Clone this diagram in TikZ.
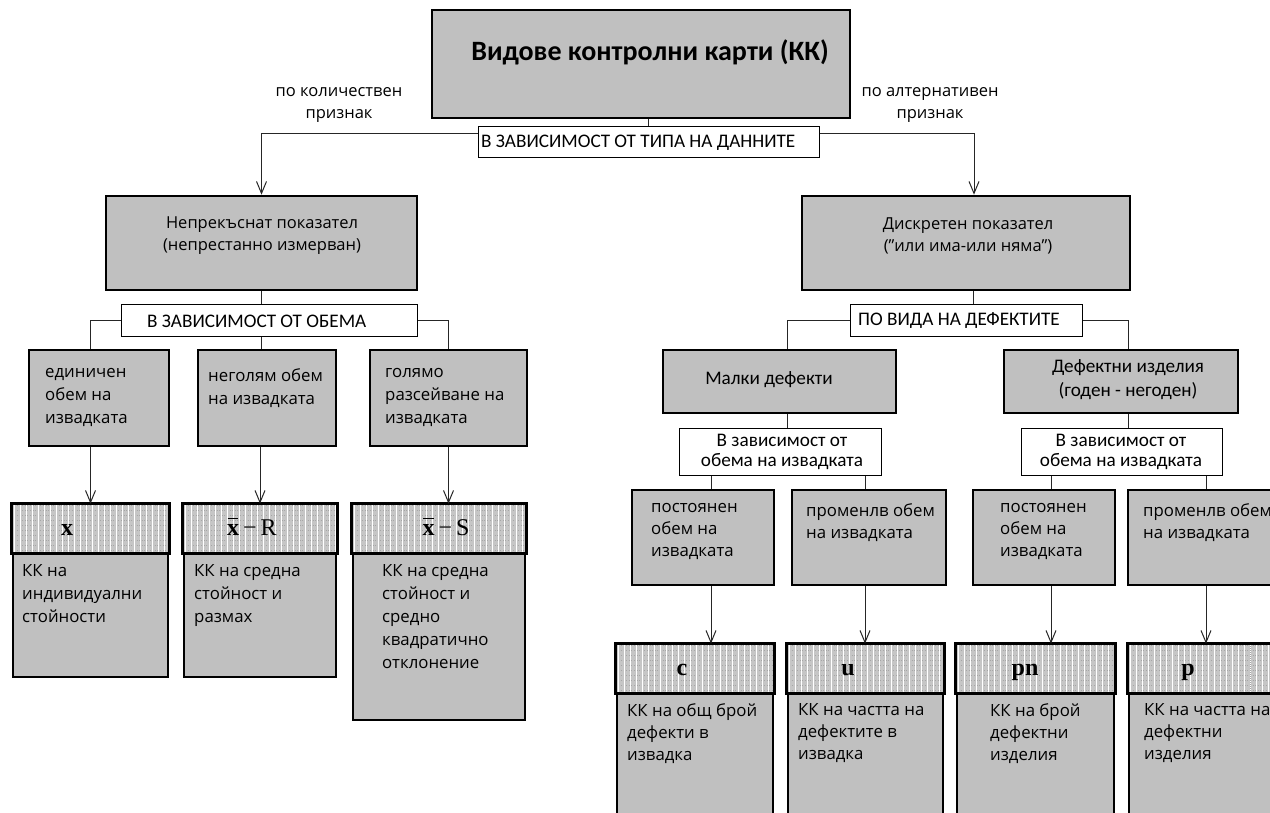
\documentclass[tikz,border=0pt]{standalone}
\usepackage{fontspec}
\setmainfont{Open Sans}
\newfontfamily\calib{Carlito}
\newfontfamily\serf{Liberation Serif}
\usetikzlibrary{arrows.meta,calc}
\definecolor{boxgray}{HTML}{C0C0C0}
\definecolor{hdrgray}{HTML}{C6C6C6}
\definecolor{hdrdot}{HTML}{A6A6A6}
\newcommand{\xbarsym}{{\rlap{\hspace{0.5pt}\rule[16pt]{10.5pt}{1.1pt}}\bfseries x}}
\newcommand{\hatchfill}[1]{%
  \begin{scope}
    \clip (#1.north west) rectangle (#1.south east);
    \fill[hdrgray] (#1.north west) rectangle (#1.south east);
    \foreach \k in {0,...,10}
      \draw[hdrdot, dotted, line width=0.6pt] ($(#1.north west)+(0,2+5*\k)$) -- ($(#1.north east)+(0,2+5*\k)$);
    \foreach \k in {0,...,30}
      \draw[white, line width=1.2pt] ($(#1.north west)+(3+6*\k,0)$) -- ($(#1.south west)+(3+6*\k,0)$);
  \end{scope}}
\begin{document}
\begin{tikzpicture}[x=1pt,y=-1pt,
  gbox/.style={draw=black, line width=2.6pt, fill=boxgray, inner sep=0pt},
  hbox/.style={draw=black, line width=2.6pt, inner sep=0pt},
  wbox/.style={draw=black, line width=1pt, fill=white, inner sep=0pt},
  conn/.style={draw=black!85, line width=1pt},
  arr/.style={conn, -{Straight Barb[length=12pt,width=10pt]}},
  body/.style={font=\fontsize{16.8}{23}\selectfont, align=left, inner sep=0pt, anchor=north west},
  rbody/.style={font=\fontsize{16.8}{22}\selectfont, align=left, inner sep=0pt, anchor=north west},
  cbody/.style={font=\fontsize{16.5}{22}\selectfont, align=center, inner sep=0pt},
  clab/.style={font=\calib\fontsize{19.2}{20}\selectfont, inner sep=0pt},
  htxt/.style={font=\serf\fontsize{24}{26}\selectfont, inner sep=0pt, anchor=base}
]
\useasboundingbox (0,0) rectangle (1270,813);
\clip (0,0) rectangle (1270,813);
\fill[white] (0,0) rectangle (1270,813);

% top
\node[gbox, minimum width=418, minimum height=108] (top) at (641,64) {};
\node[font=\calib\bfseries\fontsize{28}{30}\selectfont, inner sep=0pt] (title) at (650,52) {Видове контролни карти (КК)};
\node[cbody] (qlab) at (339,105) {по количествен\\признак};
\node[cbody] (alab) at (930,105) {по алтернативен\\признак};

\node[wbox, minimum width=341, minimum height=31] (lblT) at (648.5,142.5) {};
\node[clab, anchor=west] (lblTt) at (481,142.5) {В ЗАВИСИМОСТ ОТ ТИПА НА ДАННИТЕ};

\node[gbox, minimum width=311, minimum height=94] (nep) at (261.5,243) {};
\node[cbody] (nept) at (262,236) {Непрекъснат показател\\(непрестанно измерван)};
\node[gbox, minimum width=328, minimum height=94] (disc) at (966,243) {};
\node[cbody] (disct) at (968,236) {Дискретен показател\\({\char"22}или има-или няма{\char"22})};

\draw[conn] (lblT.north) -- (lblT.north |- top.south);
\draw[arr] ($(lblT.north west)+(0,7)$) -| (nep.north);
\coordinate (dtop) at ($(disc.north)+(8,0)$);
\draw[arr] ($(lblT.north east)+(0,7)$) -| (dtop);

% left branch
\node[wbox, minimum width=296, minimum height=31] (lblO) at (269,320.5) {};
\node[clab, anchor=west] (lblOt) at (147,321) {В ЗАВИСИМОСТ ОТ ОБЕМА};
\node[gbox, minimum width=140, minimum height=96] (b1) at (99,398) {};
\node[gbox, minimum width=138, minimum height=96] (b2) at (267,398) {};
\node[gbox, minimum width=157, minimum height=96] (b3) at (448.5,398) {};
\node[body] (b1t) at (45,368) {единичен\\обем на\\извадката};
\node[body] (b2t) at (208,368) {неголям обем\\на извадката};
\node[body] (b3t) at (385,368) {голямо\\разсейване на\\извадката};

\draw[conn] (nep.south) -- (nep.south |- lblO.north);
\coordinate (b1top) at ($(b1.north)+(-9,0)$);
\draw[conn] (lblO.west) -| (b1top);
\draw[conn] (lblO.east) -| (b3.north);
\draw[conn] (lblO.south -| nep.south) -- (b2.north -| nep.south);

% left leaves
\node[gbox, minimum width=155, minimum height=172] (L1) at (90.5,591) {};
\node[gbox, minimum width=152, minimum height=172] (L2) at (260,591) {};
\node[gbox, minimum width=172, minimum height=215] (L3) at (439,612.5) {};
\node[hbox, minimum width=155, minimum height=47] (H1) at (90.5,528.5) {};
\node[hbox, minimum width=152, minimum height=47] (H2) at (260,528.5) {};
\node[hbox, minimum width=172, minimum height=47] (H3) at (439,528.5) {};
\hatchfill{H1}\hatchfill{H2}\hatchfill{H3}
\draw[black, line width=2.6pt] (H1.north west) rectangle (H1.south east);
\draw[black, line width=2.6pt] (H2.north west) rectangle (H2.south east);
\draw[black, line width=2.6pt] (H3.north west) rectangle (H3.south east);
\node[htxt] (H1t) at (67,535) {\bfseries x};
\node[htxt] (H2t) at (252,535) {\xbarsym\,−\,R};
\node[htxt] (H3t) at (446,535) {\xbarsym\,−\,S};
\node[body] (L1t) at (22,564) {КК на\\индивидуални\\стойности};
\node[body] (L2t) at (194,564) {КК на средна\\стойност и\\размах};
\node[body] (L3t) at (382,564) {КК на средна\\стойност и\\средно\\квадратично\\отклонение};

\draw[arr] (b1.south -| H1.north) -- (H1.north);
\draw[arr] (b2.south -| H2.north) -- (H2.north);
\draw[arr] (b3.south) -- (b3.south |- H3.north);

% right branch
\node[wbox, minimum width=232, minimum height=31] (lblV) at (966,320.5) {};
\node[clab, anchor=west] (lblVt) at (858,321) {ПО ВИДА НА ДЕФЕКТИТЕ};
\coordinate (dv) at ($(disc.south)+(7,0)$);
\draw[conn] (dv) -- (dv |- lblV.north);

\node[gbox, minimum width=233, minimum height=63] (pbox) at (779.5,381.5) {};
\node[clab] (pboxt) at (769,380) {Малки дефекти};
\node[gbox, minimum width=234, minimum height=63] (dbox) at (1121,381.5) {};
\node[clab, align=center, font=\calib\fontsize{19.2}{24}\selectfont] (dboxt) at (1128,380) {Дефектни изделия\\(годен - негоден)};
\coordinate (pv) at ($(pbox.north)+(7.5,0)$);
\coordinate (qv) at ($(dbox.north)+(7,0)$);
\draw[conn] (lblV.west) -| (pv);
\draw[conn] (lblV.east) -| (qv);

\node[wbox, minimum width=202, minimum height=47] (s1) at (780,451.5) {};
\node[wbox, minimum width=201, minimum height=47] (s2) at (1121.5,451.5) {};
\node[clab, align=center] (s1t) at (782,451.5) {В зависимост от\\обема на извадката};
\node[clab, align=center] (s2t) at (1121,451.5) {В зависимост от\\обема на извадката};
\draw[conn] (pbox.south -| pv) -- (s1.north -| pv);
\draw[conn] (dbox.south -| qv) -- (s2.north -| qv);

\node[gbox, minimum width=142, minimum height=95] (r1) at (703,537.5) {};
\node[gbox, minimum width=154, minimum height=95] (r2) at (869,537.5) {};
\node[gbox, minimum width=142, minimum height=95] (r3) at (1044,537.5) {};
\node[gbox, minimum width=152, minimum height=95] (r4) at (1204,537.5) {};
\node[rbody] (r1t) at (651,503) {постоянен\\обем на\\извадката};
\node[rbody] (r2t) at (806,503) {променлв обем\\на извадката};
\node[rbody] (r3t) at (1000,503) {постоянен\\обем на\\извадката};
\node[rbody] (r4t) at (1143,503) {променлв обем\\на извадката};

\coordinate (rv1) at ($(r1.north)+(8,0)$);
\coordinate (rv2) at ($(r2.north)+(-4,0)$);
\coordinate (rv3) at ($(r3.north)+(7,0)$);
\coordinate (rv4) at ($(r4.north)+(2,0)$);
\draw[conn] (s1.south -| rv1) -- (rv1);
\draw[conn] (s1.south -| rv2) -- (rv2);
\draw[conn] (s2.south -| rv3) -- (rv3);
\draw[conn] (s2.south -| rv4) -- (rv4);

% right leaves
\node[gbox, minimum width=156, minimum height=185] (L4) at (695,737.5) {};
\node[gbox, minimum width=155, minimum height=185] (L5) at (865.5,737.5) {};
\node[gbox, minimum width=157, minimum height=185] (L6) at (1035.5,737.5) {};
\node[gbox, minimum width=156, minimum height=185] (L7) at (1207,737.5) {};
\node[hbox, minimum width=156, minimum height=47] (H4) at (695,668.5) {};
\node[hbox, minimum width=155, minimum height=47] (H5) at (865.5,668.5) {};
\node[hbox, minimum width=157, minimum height=47] (H6) at (1035.5,668.5) {};
\node[hbox, minimum width=156, minimum height=47] (H7) at (1207,668.5) {};
\hatchfill{H4}\hatchfill{H5}\hatchfill{H6}\hatchfill{H7}
\draw[hdrdot, densely dotted, line width=1pt] (1250,646) -- (1250,691);
\draw[black, line width=2.6pt] (H4.north west) rectangle (H4.south east);
\draw[black, line width=2.6pt] (H5.north west) rectangle (H5.south east);
\draw[black, line width=2.6pt] (H6.north west) rectangle (H6.south east);
\draw[black, line width=2.6pt] (H7.north west) rectangle (H7.south east);
\node[htxt] (H4t) at (682,675) {\bfseries c};
\node[htxt] (H5t) at (848,675) {\bfseries u};
\node[htxt] (H6t) at (1025,675) {\bfseries pn};
\node[htxt] (H7t) at (1188,675) {\bfseries p};
\node[rbody] (L4t) at (627,703) {КК на общ брой\\дефекти в\\извадка};
\node[rbody] (L5t) at (798,703) {КК на частта на\\дефектите в\\извадка};
\node[rbody] (L6t) at (990,703) {КК на брой\\дефектни\\изделия};
\node[rbody] (L7t) at (1144,703) {КК на частта на\\дефектни\\изделия};

\draw[arr] (r1.south -| rv1) -- (H4.north -| rv1);
\draw[arr] (r2.south -| rv2) -- (H5.north -| rv2);
\draw[arr] (r3.south -| rv3) -- (H6.north -| rv3);
\draw[arr] (r4.south -| rv4) -- (H7.north -| rv4);
\end{tikzpicture}
\end{document}
